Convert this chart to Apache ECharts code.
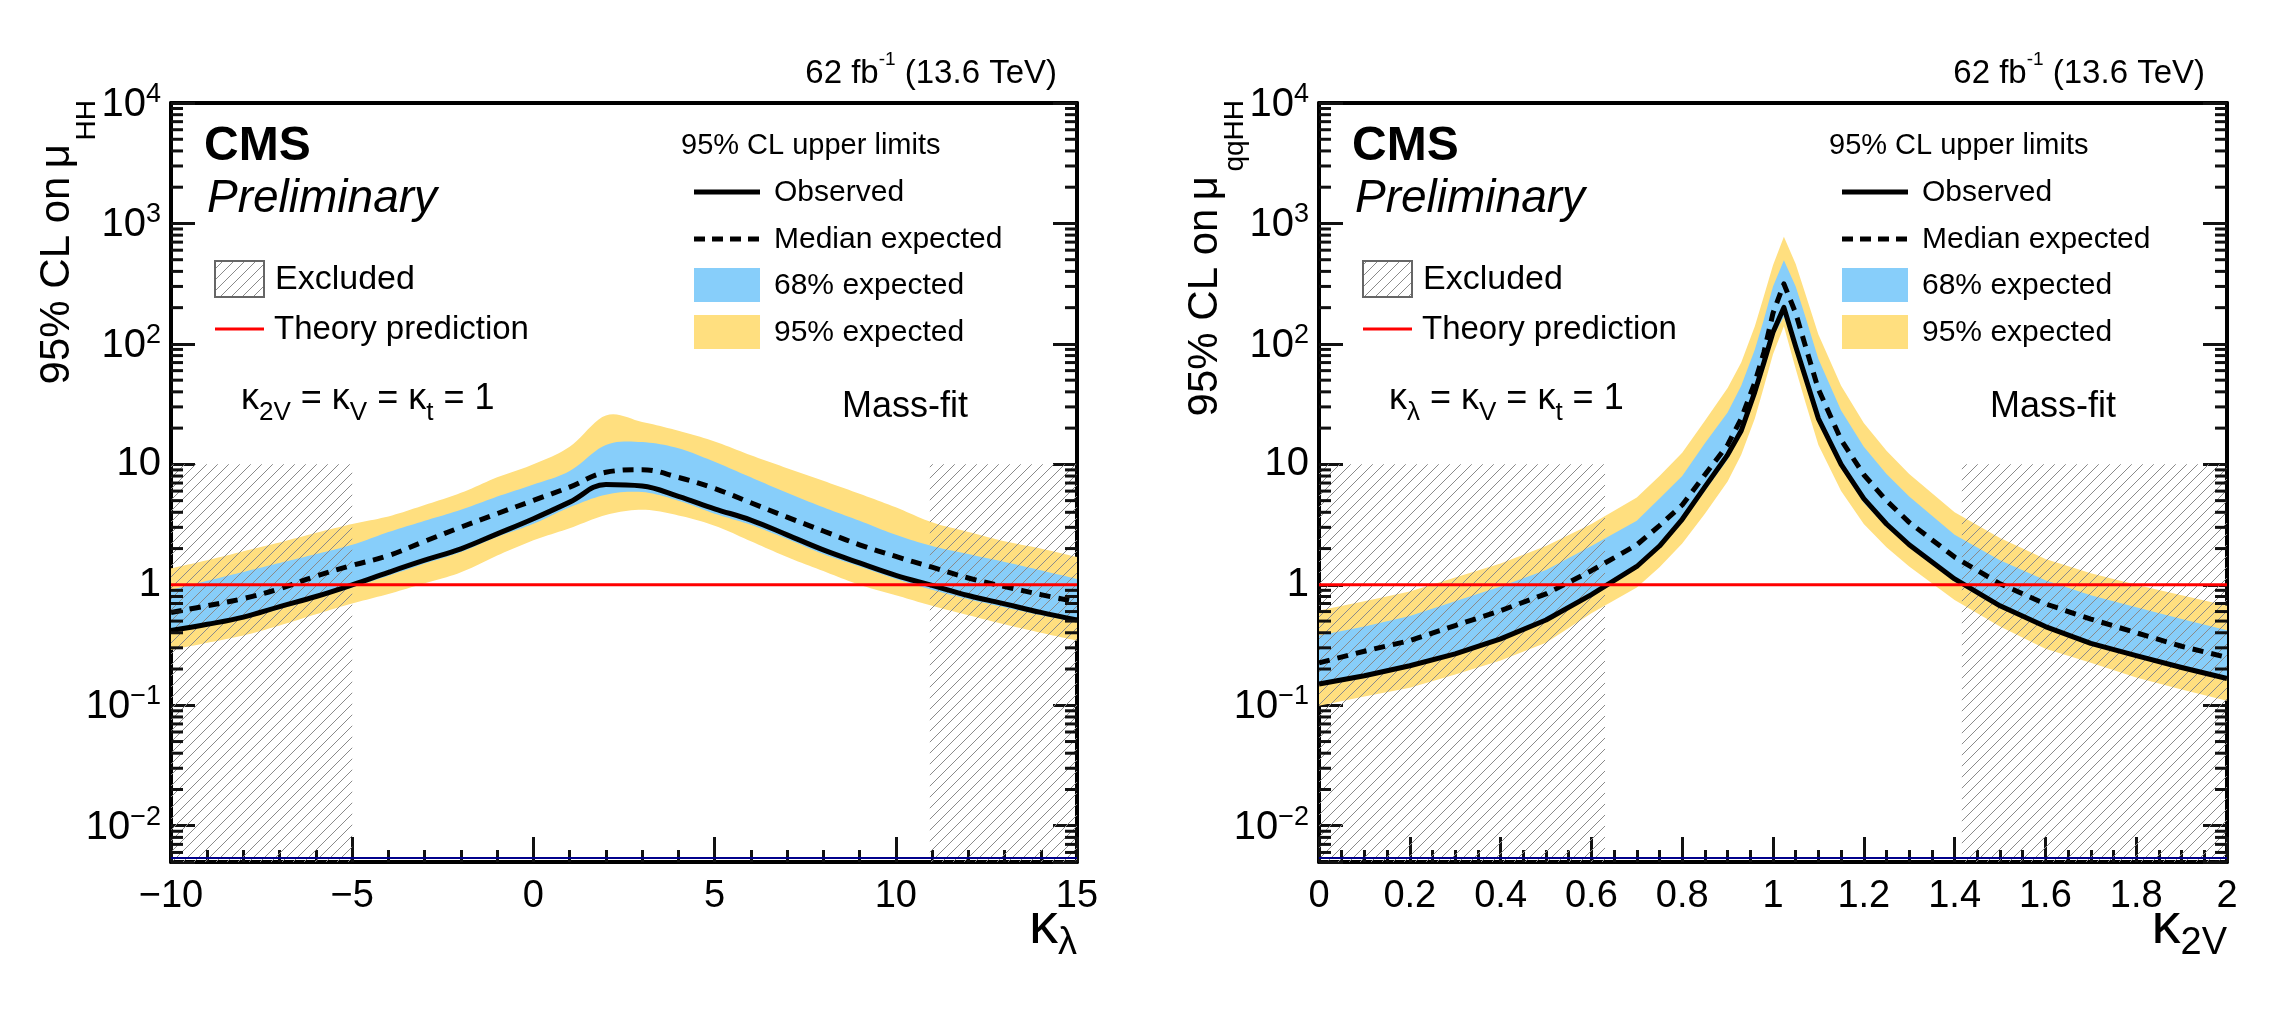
<!DOCTYPE html>
<html>
<head>
<meta charset="utf-8" />
<title>HH coupling scans</title>
<script src="https://cdn.jsdelivr.net/npm/echarts@6/dist/echarts.min.js"></script>
<style>
  html, body { margin: 0; padding: 0; background: #fff; }
  #main { width: 2284px; height: 1014px; }
</style>
</head>
<body>
<div id="main"></div>
<script>
// ---- kappa_lambda scan (left panel) ----
var klam    = [-10, -9, -8, -7, -6, -5, -4, -3, -2, -1, 0, 1, 2, 3, 4, 5, 6, 7, 8, 9, 10, 11, 12, 13, 14, 15];
var obsLam  = [0.417, 0.47, 0.54, 0.66, 0.80, 1.0, 1.27, 1.6, 1.99, 2.65, 3.54, 4.86, 6.8, 6.6, 5.42, 4.28, 3.45, 2.6, 1.95, 1.52, 1.2, 0.99, 0.815, 0.695, 0.59, 0.51];
var expLam  = [0.59, 0.67, 0.77, 0.93, 1.18, 1.45, 1.75, 2.3, 3.01, 3.9, 5.02, 6.48, 8.6, 9.03, 7.8, 6.3, 4.8, 3.65, 2.8, 2.15, 1.72, 1.40, 1.14, 0.968, 0.83, 0.72];
var lo68Lam = [0.40, 0.46, 0.53, 0.63, 0.77, 0.95, 1.19, 1.5, 1.87, 2.5, 3.21, 4.4, 5.6, 5.9, 5.0, 3.9, 3.15, 2.4, 1.8, 1.42, 1.12, 0.91, 0.76, 0.65, 0.56, 0.49];
var hi68Lam = [0.91, 1.08, 1.28, 1.52, 1.8, 2.15, 2.74, 3.4, 4.2, 5.4, 6.8, 8.8, 14.5, 15.3, 13.6, 10.5, 7.8, 5.8, 4.4, 3.4, 2.6, 2.1, 1.8, 1.55, 1.32, 1.12];
var lo95Lam = [0.288, 0.33, 0.38, 0.46, 0.57, 0.70, 0.84, 1.03, 1.27, 1.75, 2.34, 2.95, 3.8, 4.2, 3.77, 3.1, 2.3, 1.7, 1.3, 1.0, 0.82, 0.67, 0.56, 0.47, 0.40, 0.344];
var hi95Lam = [1.37, 1.6, 1.9, 2.25, 2.7, 3.2, 3.7, 4.6, 5.8, 7.8, 10, 14, 25.5, 22.5, 19, 15.5, 11.9, 9.3, 7.3, 5.7, 4.4, 3.3, 2.75, 2.3, 2.0, 1.70];
var exclLam = [[-10, -5], [10.94, 15]];

// ---- kappa_2V scan (right panel) ----
var k2v     = [0, 0.1, 0.2, 0.3, 0.4, 0.5, 0.6, 0.7, 0.75, 0.8, 0.85, 0.9, 0.93, 0.96, 0.98, 1.0, 1.024, 1.05, 1.07, 1.1, 1.15, 1.2, 1.25, 1.3, 1.4, 1.5, 1.6, 1.7, 1.8, 1.9, 2.0];
var obs2v   = [0.150, 0.176, 0.213, 0.267, 0.356, 0.51, 0.83, 1.42, 2.1, 3.5, 6.5, 12, 19, 40, 70, 125, 201, 95, 55, 24, 10, 5.2, 3.2, 2.15, 1.12, 0.67, 0.45, 0.327, 0.258, 0.206, 0.167];
var exp2v   = [0.225, 0.281, 0.344, 0.459, 0.611, 0.84, 1.31, 2.15, 3.1, 4.6, 8.2, 14.5, 24, 48, 85, 180, 315, 180, 100, 42, 16, 8.2, 5.0, 3.3, 1.70, 1.02, 0.695, 0.52, 0.40, 0.309, 0.25];
var lo68_2v = [0.155, 0.182, 0.215, 0.275, 0.36, 0.51, 0.82, 1.38, 2.0, 3.3, 6.0, 11, 18, 37, 64, 115, 168, 88, 50, 22, 9.3, 4.8, 3.0, 2.05, 1.06, 0.64, 0.44, 0.325, 0.255, 0.205, 0.167];
var hi68_2v = [0.379, 0.45, 0.55, 0.73, 0.97, 1.33, 2.1, 3.4, 5.2, 8, 15, 27, 45, 90, 160, 300, 496, 300, 175, 75, 28, 14, 8.3, 5.4, 2.6, 1.6, 1.09, 0.82, 0.65, 0.52, 0.42];
var lo95_2v = [0.099, 0.118, 0.14, 0.18, 0.235, 0.33, 0.58, 0.95, 1.4, 2.2, 3.9, 7.2, 12, 24, 44, 82, 140, 62, 34, 14.5, 6.0, 3.2, 2.05, 1.42, 0.75, 0.45, 0.294, 0.225, 0.17, 0.135, 0.109];
var hi95_2v = [0.611, 0.73, 0.88, 1.15, 1.5, 2.1, 3.2, 5.3, 8, 12.5, 23, 43, 70, 140, 250, 450, 776, 460, 270, 120, 45, 22, 13, 8.3, 4.0, 2.45, 1.64, 1.25, 1.0, 0.82, 0.67];
var excl2v = [[0, 0.63], [1.416, 2]];

// ---- shared ----
var theoryMu = 1;
var exclTop = 10;
var Y_MIN = 0.005, Y_MAX = 10000;
var yMajor = [0.01, 0.1, 1, 10, 100, 1000, 10000];
var yDecades = [0.001, 0.01, 0.1, 1, 10, 100, 1000];
var yMinorMult = [2, 3, 4, 5, 6, 7, 8, 9];

var yMinor = [];
yDecades.forEach(function (d) {
  yMinorMult.forEach(function (m) {
    var v = +(m * d).toPrecision(6);
    if (v >= Y_MIN && v <= Y_MAX) yMinor.push(v);
  });
});

var FONT = '"Liberation Sans", Arial, Helvetica, sans-serif';
var BLUE = '#87cefa', YELLOW = '#ffdf7f';
var TICK_COLOR = '#111';

function hatchCanvas() {
  var c = document.createElement('canvas');
  c.width = 11; c.height = 11;
  var g = c.getContext('2d');
  g.strokeStyle = '#8a8a8a';
  g.lineWidth = 1;
  g.beginPath();
  g.moveTo(-1, 12); g.lineTo(12, -1);
  g.moveTo(-1, 1); g.lineTo(1, -1);
  g.moveTo(10, 12); g.lineTo(12, 10);
  g.stroke();
  return c;
}
var hatch = { image: hatchCanvas(), repeat: 'repeat' };

function logLabel(v) {
  var e = Math.round(Math.log10(v));
  if (e === 0) return '{m|1}';
  if (e === 1) return '{m|10}';
  return '{m|10}{e|' + (e < 0 ? '\u2212' + (-e) : e) + '}';
}

// Catmull-Rom outline through the already projected pixel points
function spline(pts, steps) {
  var out = [];
  for (var i = 0; i < pts.length - 1; i++) {
    var p0 = pts[i - 1] || pts[i], p1 = pts[i], p2 = pts[i + 1], p3 = pts[i + 2] || pts[i + 1];
    for (var s = 0; s < steps; s++) {
      var t = s / steps, t2 = t * t, t3 = t2 * t;
      var q = [0, 1].map(function (k) {
        return 0.5 * (2 * p1[k] + (p2[k] - p0[k]) * t +
          (2 * p0[k] - 5 * p1[k] + 4 * p2[k] - p3[k]) * t2 +
          (3 * p1[k] - p0[k] - 3 * p2[k] + p3[k]) * t3);
      });
      out.push(q);
    }
  }
  out.push(pts[pts.length - 1]);
  return out;
}

function xAxes(grid, min, max, step, minorSplit, fmt) {
  return [{
    type: 'value', gridIndex: grid, position: 'bottom', min: min, max: max, interval: step,
    axisLine: { show: true, onZero: false, lineStyle: { color: '#000', width: 4 } },
    axisTick: { show: true, inside: true, length: 25, lineStyle: { color: TICK_COLOR, width: 3 } },
    minorTick: { show: true, splitNumber: minorSplit, length: 12, lineStyle: { color: TICK_COLOR, width: 3 } },
    splitLine: { show: false }, minorSplitLine: { show: false },
    axisLabel: { show: true, margin: 16, color: '#000', fontSize: 38, fontFamily: FONT, formatter: fmt }
  }, {
    type: 'value', gridIndex: grid, position: 'top', min: min, max: max, interval: step,
    axisLine: { show: true, onZero: false, lineStyle: { color: '#000', width: 4 } },
    axisTick: { show: false }, axisLabel: { show: false }, splitLine: { show: false }
  }];
}

function yAxes(grid) {
  function one(pos, withLabels) {
    return {
      type: 'log', logBase: 10, gridIndex: grid, position: pos, min: Y_MIN, max: Y_MAX,
      axisLine: { show: true, onZero: false, lineStyle: { color: '#000', width: 4 } },
      axisTick: { show: true, inside: true, length: 24, lineStyle: { color: TICK_COLOR, width: 3 } },
      minorTick: { show: false }, splitLine: { show: false },
      axisLabel: withLabels ? {
        show: true, customValues: yMajor, margin: 10, color: '#000', formatter: logLabel,
        rich: {
          m: { fontSize: 40, fontFamily: FONT, color: '#000', verticalAlign: 'bottom' },
          e: { fontSize: 27, fontFamily: FONT, color: '#000', verticalAlign: 'top', padding: [0, 0, 17, 0] }
        }
      } : { show: false }
    };
  }
  return [one('left', true), one('right', false)];
}

function band(xs, lo, hi, color, xi, yi, z, smooth) {
  return {
    type: 'custom', xAxisIndex: xi, yAxisIndex: yi, z: z,
    data: xs.map(function (x, i) { return [x, lo[i], hi[i]]; }),
    renderItem: function (params, api) {
      if (params.dataIndex !== 0) return;
      var up = [], dn = [];
      for (var i = 0; i < xs.length; i++) {
        up.push(api.coord([xs[i], hi[i]]));
        dn.push(api.coord([xs[i], lo[i]]));
      }
      if (smooth) { up = spline(up, 10); dn = spline(dn, 10); }
      var pts = up.concat(dn.reverse());
      return { type: 'polygon', shape: { points: pts }, style: { fill: color } };
    }
  };
}

function excluded(ranges, xi, yi) {
  return {
    type: 'custom', xAxisIndex: xi, yAxisIndex: yi, z: 3,
    data: ranges.map(function (r) { return [r[0], exclTop, r[1]]; }),
    renderItem: function (params, api) {
      var p0 = api.coord([api.value(0), Y_MIN]);
      var p1 = api.coord([api.value(2), api.value(1)]);
      return { type: 'rect', shape: { x: p0[0], y: p1[1], width: p1[0] - p0[0], height: p0[1] - p1[1] },
               style: { fill: hatch } };
    }
  };
}

// minor log ticks (2..9 per decade), inward on both vertical frame sides
function yMinorTicks(xMin, xMax, xi, yi) {
  var data = [];
  yMinor.forEach(function (v) { data.push([xMin, v, 12]); data.push([xMax, v, -12]); });
  return {
    type: 'custom', xAxisIndex: xi, yAxisIndex: yi, z: 9, data: data,
    renderItem: function (params, api) {
      var len = api.value(2);
      var p = api.coord([api.value(0), api.value(1)]);
      return { type: 'line', shape: { x1: p[0], y1: p[1], x2: p[0] + len, y2: p[1] },
               style: { stroke: TICK_COLOR, lineWidth: 3 } };
    }
  };
}

function curve(xs, ys, xi, yi, dashed, z, smooth) {
  return {
    type: 'line', xAxisIndex: xi, yAxisIndex: yi, z: z,
    data: xs.map(function (x, i) { return [x, ys[i]]; }),
    showSymbol: false, symbol: 'none', smooth: smooth ? 0.4 : false,
    lineStyle: { color: '#000', width: 5, type: dashed ? [11, 8] : 'solid', join: 'round' }
  };
}

function flat(x0, x1, y, color, width, xi, yi, z) {
  return {
    type: 'line', xAxisIndex: xi, yAxisIndex: yi, z: z,
    data: [[x0, y], [x1, y]], showSymbol: false, symbol: 'none',
    lineStyle: { color: color, width: width }
  };
}

function txt(x, y, s, font, extra) {
  return {
    type: 'text', x: x, y: y, z: 20,
    style: Object.assign({ text: s, font: font, fill: '#000', align: 'left', textAlign: 'left',
                           verticalAlign: 'middle', textVerticalAlign: 'middle' }, extra || {})
  };
}

function panelGraphics(L, W, kappaSubs, ySub, xSub) {
  var f = function (s) { return s + ' ' + FONT; };
  var subRich = {
    k: { fontSize: 36, fontFamily: FONT, verticalAlign: 'top' },
    s: { fontSize: 26, fontFamily: FONT, verticalAlign: 'top', padding: [19, 0, 0, 0] }
  };
  var kappa = '{k|\u03ba}{s|' + kappaSubs + '}{k| = \u03ba}{s|V}{k| = \u03ba}{s|t}{k| = 1}';
  var ySubLen = { 'HH': 42, 'qqHH': 74 }[ySub];
  return [
    txt(L + 33, 147, 'CMS', f('bold 48px')),
    txt(L + 36, 199, 'Preliminary', f('italic 46px')),
    { type: 'rect', z: 20, shape: { x: L + 44, y: 261, width: 49, height: 36 },
      style: { fill: hatch, stroke: '#666', lineWidth: 2 } },
    txt(L + 104, 280, 'Excluded', f('34px')),
    { type: 'line', z: 20, shape: { x1: L + 44, y1: 329, x2: L + 93, y2: 329 },
      style: { stroke: '#ff0000', lineWidth: 3 } },
    txt(L + 103, 330, 'Theory prediction', f('33px')),
    txt(L + 70, 381, kappa, f('36px'), { verticalAlign: 'top', textVerticalAlign: 'top', rich: subRich }),
    txt(L + 510, 146, '95% CL upper limits', f('29px')),
    { type: 'line', z: 20, shape: { x1: L + 523, y1: 192, x2: L + 589, y2: 192 },
      style: { stroke: '#000', lineWidth: 5 } },
    txt(L + 603, 193, 'Observed', f('30px')),
    { type: 'line', z: 20, shape: { x1: L + 523, y1: 239, x2: L + 589, y2: 239 },
      style: { stroke: '#000', lineWidth: 5, lineDash: [11, 7] } },
    txt(L + 603, 240, 'Median expected', f('30px')),
    { type: 'rect', z: 20, shape: { x: L + 523, y: 268, width: 66, height: 34 }, style: { fill: BLUE } },
    txt(L + 603, 286, '68% expected', f('30px')),
    { type: 'rect', z: 20, shape: { x: L + 523, y: 315, width: 66, height: 34 }, style: { fill: YELLOW } },
    txt(L + 603, 333, '95% expected', f('30px')),
    txt(L + 671, 407, 'Mass-fit', f('36px')),
    txt(L + 886, 50, '{m|62 fb}{p|-1}{m| (13.6 TeV)}', f('33px'), {
      align: 'right', textAlign: 'right', verticalAlign: 'top', textVerticalAlign: 'top',
      rich: {
        m: { fontSize: 33, fontFamily: FONT, verticalAlign: 'bottom' },
        p: { fontSize: 19, fontFamily: FONT, verticalAlign: 'top', padding: [0, 0, 21, 0] }
      }
    }),
    // y axis title, reads bottom to top, ends at the top of the frame
    Object.assign(txt(L - 114, 100 + ySubLen + 2, '95% CL on\u2009\u03bc', f('42px'),
      { align: 'right', textAlign: 'right' }), { rotation: Math.PI / 2 }),
    Object.assign(txt(L - 84, 100, ySub, f('28px'),
      { align: 'right', textAlign: 'right' }), { rotation: Math.PI / 2 }),
    // x axis title at the right end of the axis
    txt(L + W, 898, '{k|\u03ba}{s|' + xSub + '}', f('58px'), {
      align: 'right', textAlign: 'right', verticalAlign: 'top', textVerticalAlign: 'top',
      rich: {
        k: { fontSize: 58, fontFamily: FONT, verticalAlign: 'top' },
        s: { fontSize: 38, fontFamily: FONT, verticalAlign: 'top', padding: [27, 0, 0, 0] }
      }
    })
  ];
}

var chart = echarts.init(document.getElementById('main'), null, { renderer: 'canvas' });

var lamFmt = function (v) { return v < 0 ? '\u2212' + Math.abs(v) : String(v); };
var k2vFmt = function (v) { return String(+v.toFixed(1)); };

var option = {
  animation: false,
  backgroundColor: '#fff',
  grid: [
    { left: 171, top: 103, width: 906, height: 759, containLabel: false, outerBoundsMode: 'none' },
    { left: 1319, top: 103, width: 908, height: 759, containLabel: false, outerBoundsMode: 'none' }
  ],
  xAxis: [].concat(xAxes(0, -10, 15, 5, 5, lamFmt), xAxes(1, 0, 2, 0.2, 4, k2vFmt)),
  yAxis: [].concat(yAxes(0), yAxes(1)),
  series: [
    band(klam, lo95Lam, hi95Lam, YELLOW, 0, 0, 1, true),
    band(klam, lo68Lam, hi68Lam, BLUE, 0, 0, 2, true),
    excluded(exclLam, 0, 0),
    flat(-10, 15, 0.0054, '#00008b', 2, 0, 0, 4),
    curve(klam, expLam, 0, 0, true, 5, true),
    curve(klam, obsLam, 0, 0, false, 6, true),
    flat(-10, 15, theoryMu, '#ff0000', 3, 0, 0, 7),
    yMinorTicks(-10, 15, 0, 0),

    band(k2v, lo95_2v, hi95_2v, YELLOW, 2, 2, 1, false),
    band(k2v, lo68_2v, hi68_2v, BLUE, 2, 2, 2, false),
    excluded(excl2v, 2, 2),
    flat(0, 2, 0.0054, '#00008b', 2, 2, 2, 4),
    curve(k2v, exp2v, 2, 2, true, 5, false),
    curve(k2v, obs2v, 2, 2, false, 6, false),
    flat(0, 2, theoryMu, '#ff0000', 3, 2, 2, 7),
    yMinorTicks(0, 2, 2, 2)
  ],
  graphic: [].concat(
    panelGraphics(171, 906, '2V', 'HH', '\u03bb'),
    panelGraphics(1319, 908, '\u03bb', 'qqHH', '2V')
  )
};

chart.setOption(option);
</script>
</body>
</html>
